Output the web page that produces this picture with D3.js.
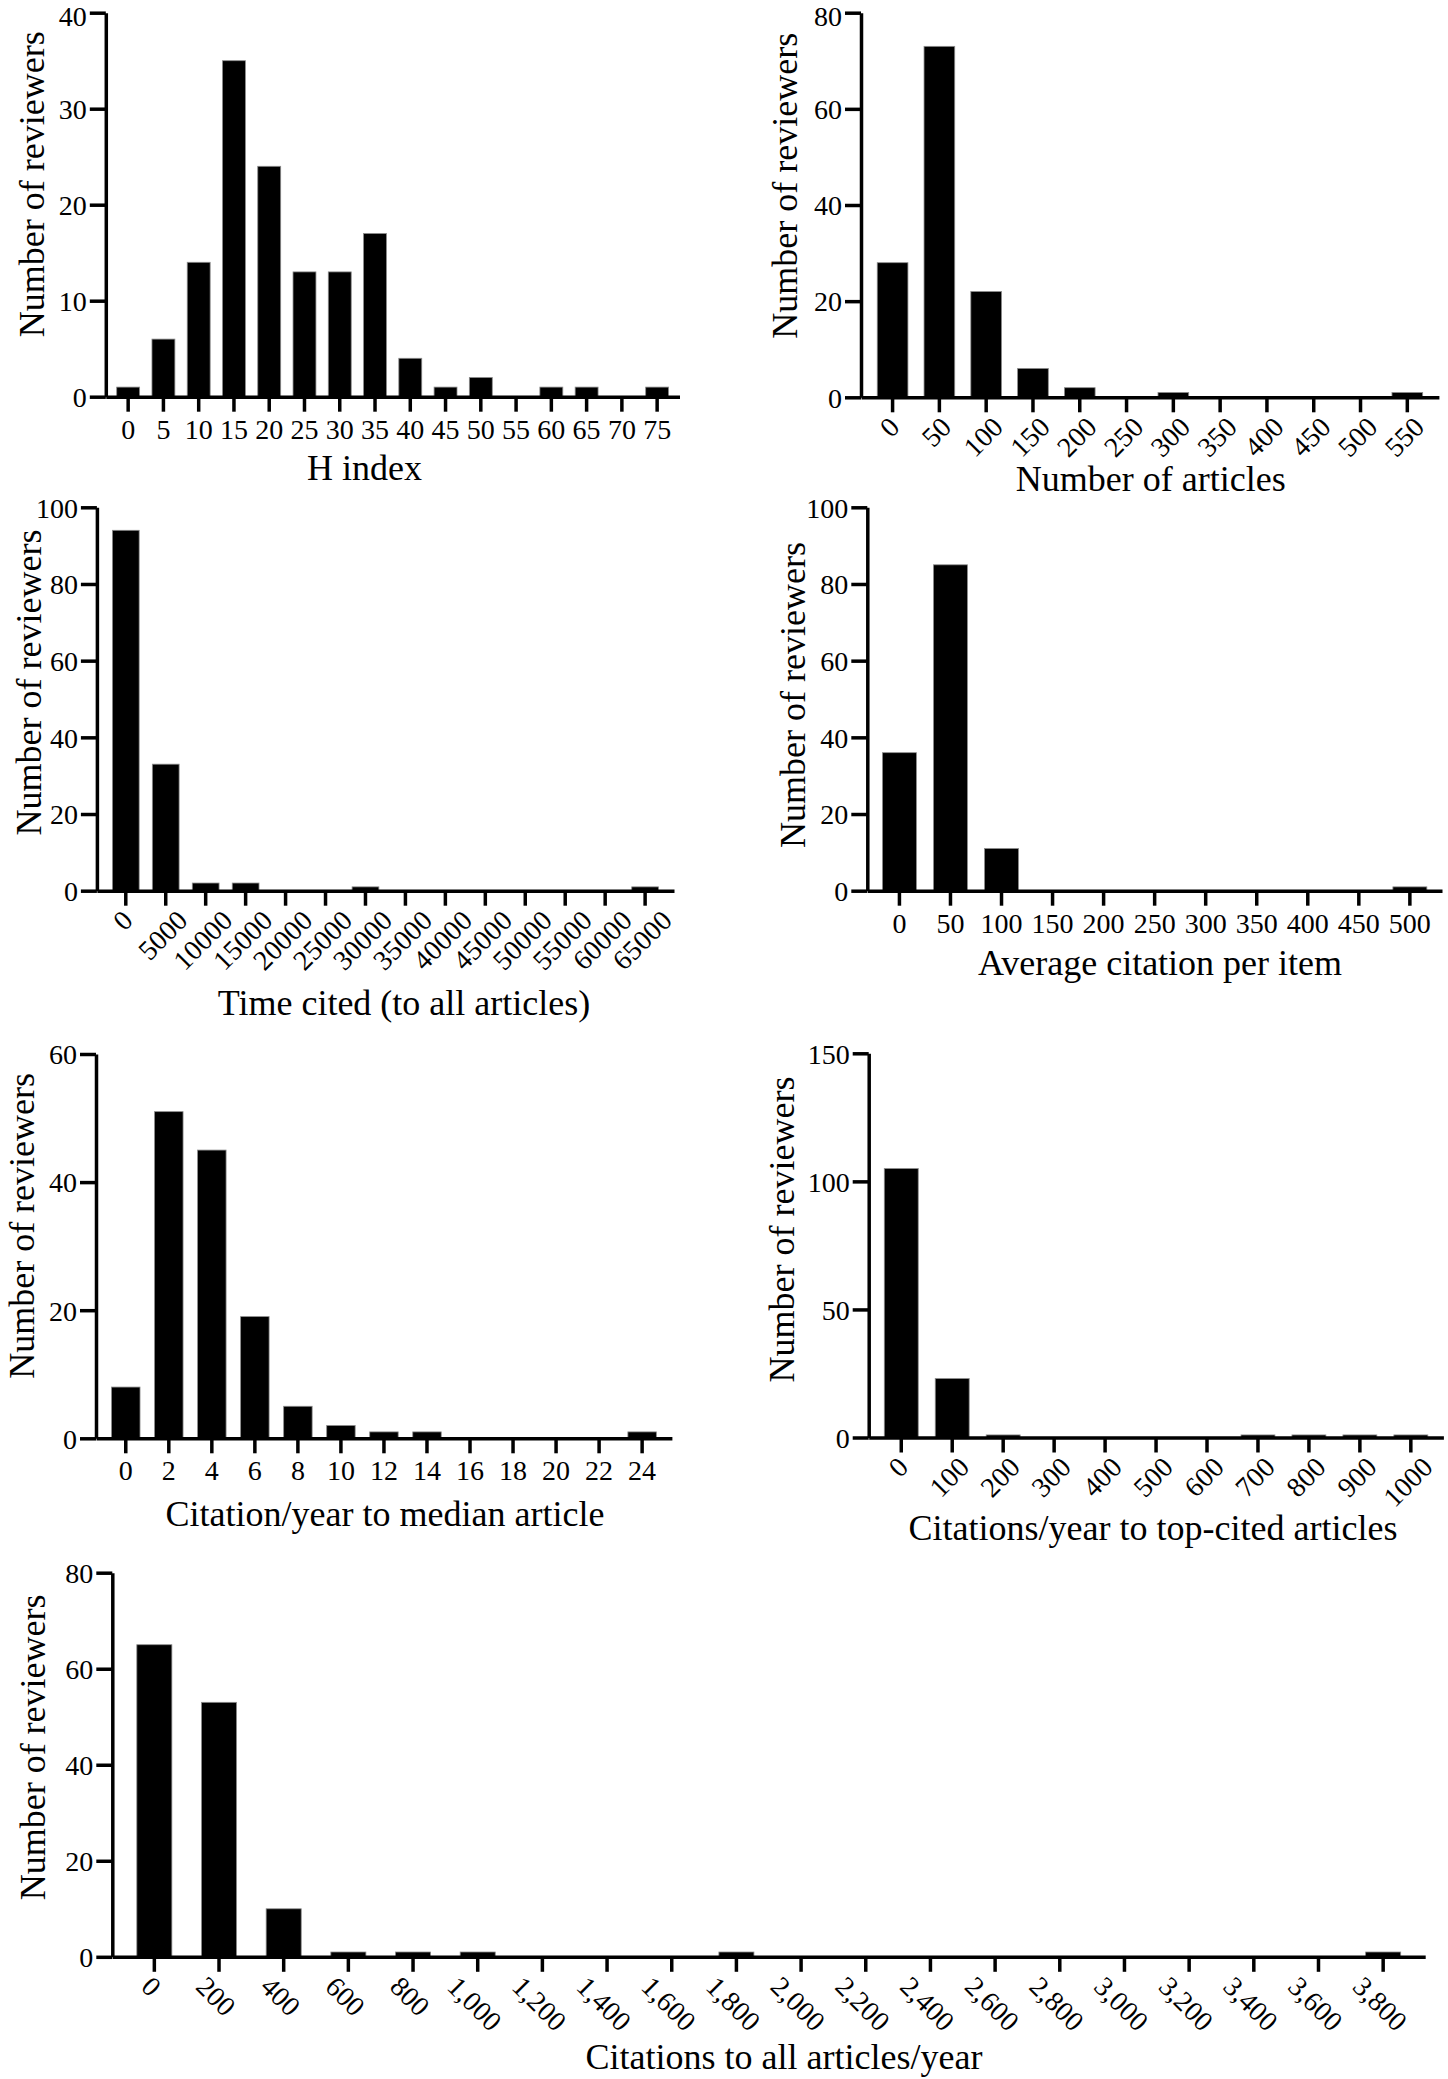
<!DOCTYPE html>
<html><head><meta charset="utf-8">
<script src="https://cdn.jsdelivr.net/npm/d3@7"></script>
<style>body{margin:0;background:#fff}</style>
</head><body>
<svg id="chart" width="1448" height="2079" xmlns="http://www.w3.org/2000/svg"></svg>
<script>
// ---------- DATA ----------
const hIndexBins = [0,5,10,15,20,25,30,35,40,45,50,55,60,65,70,75];
const hIndexCounts = [1,6,14,35,24,13,13,17,4,1,2,0,1,1,0,1];
const hIndexYTicks = [0,10,20,30,40];

const articleBins = [0,50,100,150,200,250,300,350,400,450,500,550];
const articleCounts = [28,73,22,6,2,0,1,0,0,0,0,1];
const articleYTicks = [0,20,40,60,80];

const timesCitedBins = [0,5000,10000,15000,20000,25000,30000,35000,40000,45000,50000,55000,60000,65000];
const timesCitedCounts = [94,33,2,2,0,0,1,0,0,0,0,0,0,1];
const timesCitedYTicks = [0,20,40,60,80,100];

const avgCitationBins = [0,50,100,150,200,250,300,350,400,450,500];
const avgCitationCounts = [36,85,11,0,0,0,0,0,0,0,1];
const avgCitationYTicks = [0,20,40,60,80,100];

const medianCitationBins = [0,2,4,6,8,10,12,14,16,18,20,22,24];
const medianCitationCounts = [8,51,45,19,5,2,1,1,0,0,0,0,1];
const medianCitationYTicks = [0,20,40,60];

const topCitedBins = [0,100,200,300,400,500,600,700,800,900,1000];
const topCitedCounts = [105,23,1,0,0,0,0,1,1,1,1];
const topCitedYTicks = [0,50,100,150];

const allCitationBins = [0,200,400,600,800,1000,1200,1400,1600,1800,2000,2200,2400,2600,2800,3000,3200,3400,3600,3800];
const allCitationCounts = [65,53,10,1,1,1,0,0,0,1,0,0,0,0,0,0,0,0,0,1];
const allCitationYTicks = [0,20,40,60,80];

const yTitle = "Number of reviewers";
const xTitles = ["H index","Number of articles","Time cited (to all articles)","Average citation per item",
  "Citation/year to median article","Citations/year to top-cited articles","Citations to all articles/year"];

// ---------- LAYOUT ----------
const panels = [
  {cats:hIndexBins, vals:hIndexCounts, yt:hIndexYTicks, x0:105.8, x1:679.5, y0:396.7, y1:12.7, pi:0.35, po:0.309, rot:0, fmt:d3.format("d"), title:xTitles[0], tx:364.5, ty:480, ytx:31.3, yty:184.2},
  {cats:articleBins, vals:articleCounts, yt:articleYTicks, x0:861, x1:1438.9, y0:397.3, y1:12.7, pi:0.344, po:0.347, rot:-45, fmt:d3.format("d"), title:xTitles[1], tx:1150.8, ty:491, ytx:785, yty:185.8},
  {cats:timesCitedBins, vals:timesCitedCounts, yt:timesCitedYTicks, x0:96.9, x1:674, y0:890.7, y1:507.3, pi:0.33, po:0.388, rot:-45, fmt:d3.format("d"), title:xTitles[2], tx:404, ty:1015, ytx:29, yty:682.5},
  {cats:avgCitationBins, vals:avgCitationCounts, yt:avgCitationYTicks, x0:867.3, x1:1442, y0:890.7, y1:507.3, pi:0.335, po:0.297, rot:0, fmt:d3.format("d"), title:xTitles[3], tx:1160, ty:975, ytx:792.5, yty:695},
  {cats:medianCitationBins, vals:medianCitationCounts, yt:medianCitationYTicks, x0:96, x1:671.9, y0:1438.3, y1:1054, pi:0.338, po:0.361, rot:0, fmt:d3.format("d"), title:xTitles[4], tx:385, ty:1526, ytx:22, yty:1225.9},
  {cats:topCitedBins, vals:topCitedCounts, yt:topCitedYTicks, x0:868.7, x1:1443.4, y0:1437.5, y1:1053.3, pi:0.334, po:0.306, rot:-45, fmt:d3.format("d"), title:xTitles[5], tx:1153, ty:1540, ytx:782, yty:1229.5},
  {cats:allCitationBins, vals:allCitationCounts, yt:allCitationYTicks, x0:112.3, x1:1425.2, y0:1956.8, y1:1572.7, pi:0.458, po:0.379, rot:45, fmt:d3.format(","), title:xTitles[6], tx:784, ty:2069, ytx:32.5, yty:1747.4}
];

const FONT = "'Liberation Serif','Times New Roman',Times,serif";
const svg = d3.select("#chart");
svg.append("rect").attr("width",1448).attr("height",2079).attr("fill","#fff");

panels.forEach(p => {
  const g = svg.append("g");
  const x = d3.scaleBand().domain(p.cats).range([p.x0, p.x1]).paddingInner(p.pi).paddingOuter(p.po);
  const y = d3.scaleLinear().domain([0, d3.max(p.yt)]).range([p.y0, p.y1]);

  g.selectAll("rect.bar")
    .data(p.cats.map((c,i)=>({c:c, v:p.vals[i]})))
    .join("rect").attr("class","bar")
    .attr("x", d => x(d.c)).attr("width", x.bandwidth())
    .attr("y", d => y(d.v)).attr("height", d => y(0) - y(d.v))
    .attr("fill","#000").attr("stroke","#8c8c8c").attr("stroke-width",0.8);

  const xa = g.append("g").attr("transform",`translate(0,${p.y0})`)
    .call(d3.axisBottom(x).tickSize(15).tickSizeOuter(0).tickFormat(p.fmt));
  const ya = g.append("g").attr("transform",`translate(${p.x0},0)`)
    .call(d3.axisLeft(y).tickValues(p.yt).tickSize(16).tickSizeOuter(0).tickFormat(d3.format("d")));

  [xa, ya].forEach(a => {
    a.select(".domain").attr("stroke","#000").attr("stroke-width",3.5);
    a.selectAll(".tick line").attr("stroke","#000").attr("stroke-width",3.5);
    a.selectAll(".tick text").attr("fill","#000").style("font-family",FONT).style("font-size","28px");
  });
  ya.selectAll(".tick text").attr("x",-19)
    .attr("dy", d => (y(d) < 20 ? "0.47em" : "0.35em"));

  xa.selectAll(".tick text").each(function(){
    const t = d3.select(this);
    if (p.rot === 0) {
      t.attr("y",42).attr("dy",0);
      return;
    }
    t.attr("x",0).attr("y",0).attr("dy",0);
    const L = this.getComputedTextLength();
    const H = 19;
    if (p.rot < 0) {
      t.attr("text-anchor","end")
       .attr("transform",`translate(${-3 + 0.3535*(L+H)},${18 + 0.707*H}) rotate(-45)`);
    } else {
      t.attr("text-anchor","start")
       .attr("transform",`translate(${-3 - 0.3535*(L+H)},${18 + 0.707*H}) rotate(45)`);
    }
  });

  g.append("text").attr("x",p.tx).attr("y",p.ty).attr("text-anchor","middle")
    .style("font-family",FONT).style("font-size","36px").attr("fill","#000").text(p.title);
  g.append("text").attr("transform",`translate(${p.ytx+12.4},${p.yty}) rotate(-90)`)
    .attr("text-anchor","middle")
    .style("font-family",FONT).style("font-size","36px").attr("fill","#000").text(yTitle);
});
</script>
</body></html>
